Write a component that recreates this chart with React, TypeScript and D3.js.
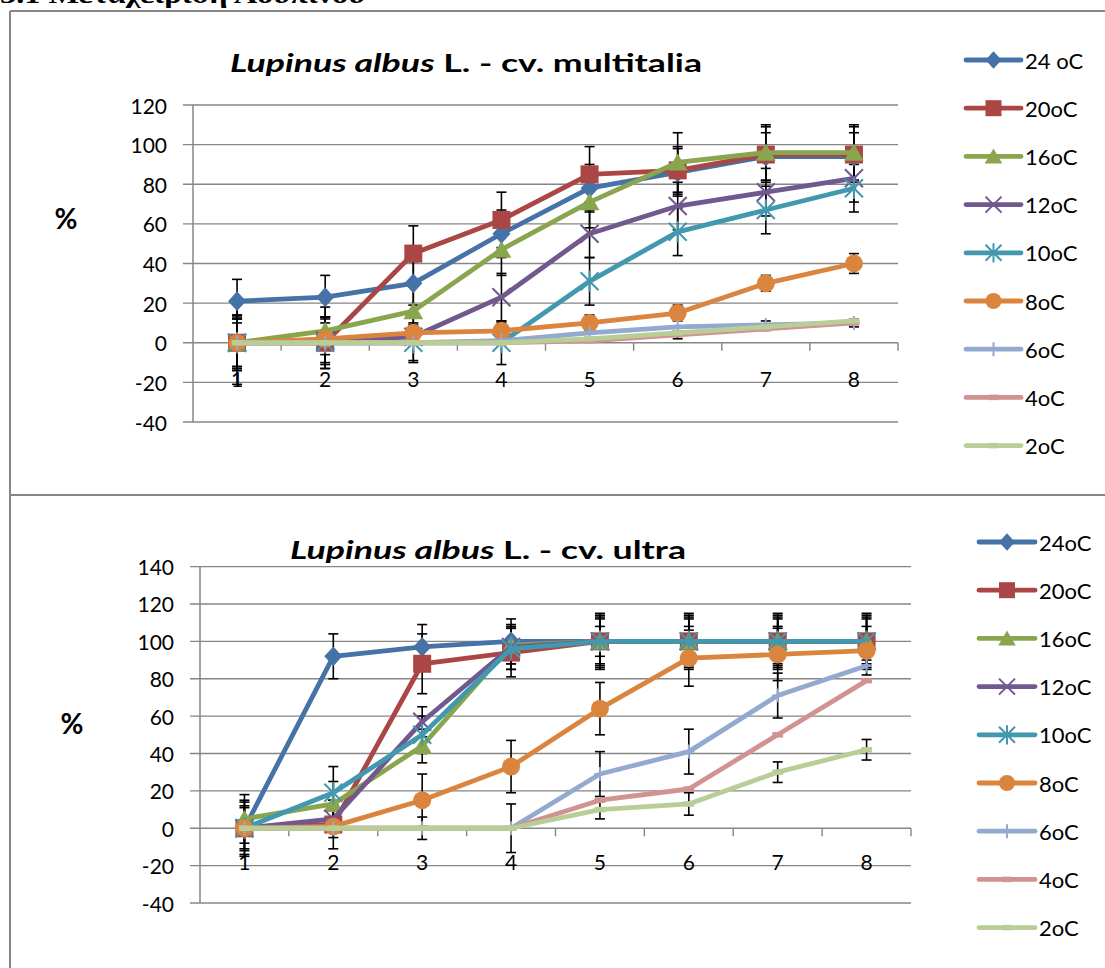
import React from 'react';
import * as d3 from 'd3';

// days (x categories)
const days = [1, 2, 3, 4, 5, 6, 7, 8];

// legend labels
const labelsTop = ['24 oC', '20oC', '16oC', '12oC', '10oC', '8oC', '6oC', '4oC', '2oC'];
const labelsBottom = ['24oC', '20oC', '16oC', '12oC', '10oC', '8oC', '6oC', '4oC', '2oC'];

const colors = ['#4572A7', '#AA4643', '#89A54E', '#71588F', '#4198AF', '#DB843D', '#93A9CF', '#D19392', '#B9CD96'];
const markers = ['diamond', 'square', 'triangle', 'x', 'star', 'circle', 'plus', 'dash', 'dash'];

// cv. multitalia - germination %
const mt24 = [21, 23, 30, 55, 78, 86, 94, 94];
const mt20 = [0, 0, 45, 62, 85, 87, 95, 95];
const mt16 = [0, 6, 16, 47, 71, 91, 96, 96];
const mt12 = [0, 1, 3, 23, 55, 69, 76, 83];
const mt10 = [0, 0, 0, 0, 31, 56, 67, 78];
const mt8 = [0, 2, 5, 6, 10, 15, 30, 40];
const mt6 = [0, 0, 0, 1, 5, 8, 9, 10];
const mt4 = [0, 0, 0, 0, 1, 4, 7, 10];
const mt2 = [0, 0, 0, 0, 2, 5, 8, 11];

// cv. multitalia - error (+/-)
const mtErr24 = [11, 11, 11, 12, 12, 12, 12, 12];
const mtErr20 = [14, 13, 14, 14, 14, 12, 14, 14];
const mtErr16 = [13, 12, 14, 13, 13, 15, 14, 14];
const mtErr12 = [12, 12, 12, 12, 12, 12, 12, 12];
const mtErr10 = [21, 10, 10, 11, 12, 12, 12, 12];
const mtErr8 = [14, 4, 4, 4, 4, 4, 4, 5];
const mtErr6 = [12, 13, 0, 0, 0, 0, 2, 2];
const mtErr4 = [0, 0, 0, 0, 0, 2, 0, 0];
const mtErr2 = [0, 0, 0, 0, 0, 0, 0, 0];

// cv. ultra - germination %
const ul24 = [0, 92, 97, 100, 100, 100, 100, 100];
const ul20 = [0, 2, 88, 94, 100, 100, 100, 100];
const ul16 = [5, 13, 44, 98, 100, 100, 100, 100];
const ul12 = [0, 5, 57, 97, 100, 100, 100, 100];
const ul10 = [0, 19, 50, 96, 100, 100, 100, 100];
const ul8 = [0, 1, 15, 33, 64, 91, 93, 95];
const ul6 = [0, 0, 0, 0, 29, 41, 71, 87];
const ul4 = [0, 0, 0, 0, 15, 21, 50, 79];
const ul2 = [0, 0, 0, 0, 10, 13, 30, 42];

// cv. ultra - error (+/-)
const ulErr24 = [14, 12, 12, 12, 15, 15, 15, 15];
const ulErr20 = [15, 13, 16, 13, 12, 12, 12, 12];
const ulErr16 = [13, 12, 9, 10, 8, 8, 8, 8];
const ulErr12 = [12, 10, 8, 12, 14, 14, 14, 14];
const ulErr10 = [11, 14, 10, 11, 13, 13, 13, 13];
const ulErr8 = [0, 0, 14, 14, 14, 15, 14, 5];
const ulErr6 = [0, 0, 6, 13, 12, 12, 12, 5];
const ulErr4 = [0, 0, 0, 0, 0, 0, 0, 0];
const ulErr2 = [0, 0, 0, 0, 5, 6, 5.5, 5.5];

const valuesTop = [mt24, mt20, mt16, mt12, mt10, mt8, mt6, mt4, mt2];
const errorsTop = [mtErr24, mtErr20, mtErr16, mtErr12, mtErr10, mtErr8, mtErr6, mtErr4, mtErr2];
const valuesBottom = [ul24, ul20, ul16, ul12, ul10, ul8, ul6, ul4, ul2];
const errorsBottom = [ulErr24, ulErr20, ulErr16, ulErr12, ulErr10, ulErr8, ulErr6, ulErr4, ulErr2];

const FONT = 'Lato, "Open Sans", sans-serif';
const GRID = '#868686';

function Marker({ type, color, x, y, s }) {
  const t = `translate(${x},${y})`;
  if (type === 'diamond')
    return <path transform={t} d={`M0,${-s * 1.1}L${s},0L0,${s * 1.1}L${-s},0Z`} fill={color} />;
  if (type === 'square') return <rect x={x - s} y={y - s} width={s * 2} height={s * 2} fill={color} />;
  if (type === 'triangle')
    return <path transform={t} d={`M0,${-s}L${s * 1.1},${s * 0.9}L${-s * 1.1},${s * 0.9}Z`} fill={color} />;
  if (type === 'circle') return <circle cx={x} cy={y} r={s} fill={color} />;
  if (type === 'x')
    return <path transform={t} d={`M${-s},${-s}L${s},${s}M${-s},${s}L${s},${-s}`} stroke={color} strokeWidth={2} />;
  if (type === 'star')
    return (
      <path
        transform={t}
        d={`M${-s},${-s}L${s},${s}M${-s},${s}L${s},${-s}M0,${-s * 1.2}L0,${s * 1.2}`}
        stroke={color}
        strokeWidth={2}
      />
    );
  if (type === 'plus')
    return <path transform={t} d={`M0,${-s}L0,${s}M${-s * 0.8},0L${s * 0.8},0`} stroke={color} strokeWidth={2} />;
  return <path transform={t} d={`M${-s * 0.6},0L${s * 0.6},0`} stroke={color} strokeWidth={5.5} />;
}

function Chart({ title, labels, values, errors, yMax, cfg }) {
  const x = d3.scaleBand().domain(days.map(String)).range([cfg.x0, cfg.x1]);
  const y = d3.scaleLinear().domain([-40, yMax]).range([cfg.yBottom, cfg.yTop]);
  const ticks = d3.range(-40, yMax + 1, 20);
  const cx = (d) => x(String(d)) + x.bandwidth() / 2;
  const line = d3
    .line()
    .x((d, i) => cx(days[i]))
    .y((d) => y(d));

  return (
    <g>
      {ticks.map((t) => (
        <g key={t}>
          <line x1={cfg.x0 - 10} x2={cfg.x1} y1={y(t)} y2={y(t)} stroke={GRID} strokeWidth={1.4} />
          <text
            x={cfg.x0 - 26}
            y={y(t)}
            textAnchor="end"
            dominantBaseline="central"
            fontSize={21}
            fontFamily={FONT}
          >
            {t}
          </text>
        </g>
      ))}
      <line x1={cfg.x0} x2={cfg.x0} y1={y(yMax)} y2={y(-40)} stroke={GRID} strokeWidth={1.5} />
      {days.map((d, i) => (
        <line
          key={d}
          x1={cfg.x0 + (i + 1) * x.bandwidth()}
          x2={cfg.x0 + (i + 1) * x.bandwidth()}
          y1={y(0)}
          y2={y(0) + 8}
          stroke={GRID}
          strokeWidth={1.4}
        />
      ))}
      {days.map((d) => (
        <text
          key={d}
          x={cx(d)}
          y={y(-20) - 4}
          textAnchor="middle"
          dominantBaseline="central"
          fontSize={21}
          fontFamily={FONT}
        >
          {d}
        </text>
      ))}

      {/* error bars */}
      {values.map((s, si) =>
        s.map((v, i) => {
          const e = errors[si][i];
          if (!e) return null;
          const px = cx(days[i]);
          return (
            <g key={`${si}-${i}`} stroke="#000" strokeWidth={1.6}>
              <line x1={px} x2={px} y1={y(v + e)} y2={y(v - e)} />
              <line x1={px - 5} x2={px + 5} y1={y(v + e)} y2={y(v + e)} />
              <line x1={px - 5} x2={px + 5} y1={y(v - e)} y2={y(v - e)} />
            </g>
          );
        })
      )}

      {values.map((s, si) => (
        <g key={si}>
          <path d={line(s)} fill="none" stroke={colors[si]} strokeWidth={4.8} strokeLinejoin="round" strokeLinecap="round" />
          {s.map((v, i) => (
            <Marker key={i} type={markers[si]} color={colors[si]} x={cx(days[i])} y={y(v)} s={markers[si] === 'plus' ? 7 : 9} />
          ))}
        </g>
      ))}

      <text
        x={cfg.titleX}
        y={cfg.titleY}
        textAnchor="middle"
        fontSize={25}
        fontWeight="bold"
        fontFamily={FONT}
        textLength={cfg.titleW}
        lengthAdjust="spacingAndGlyphs"
      >
        <tspan fontStyle="italic">Lupinus albus</tspan>
        <tspan> L. - cv. {title}</tspan>
      </text>
      <text x={cfg.pctX} y={cfg.pctY} textAnchor="middle" fontSize={28} fontWeight="bold" fontFamily={FONT}>
        %
      </text>

      {labels.map((l, i) => {
        const ly = cfg.legY + i * 48.2;
        return (
          <g key={l}>
            <line x1={cfg.legX0} x2={cfg.legX1} y1={ly} y2={ly} stroke={colors[i]} strokeWidth={4.8} strokeLinecap="round" />
            <Marker type={markers[i]} color={colors[i]} x={(cfg.legX0 + cfg.legX1) / 2} y={ly} s={markers[i] === 'plus' ? 7 : 8} />
            <text x={cfg.legX1 + 4} y={ly} dominantBaseline="central" fontSize={22} fontFamily={FONT}>
              {l}
            </text>
          </g>
        );
      })}
    </g>
  );
}

const topCfg = {
  x0: 193, x1: 898, yTop: 105, yBottom: 422,
  titleX: 466, titleY: 72, titleW: 472, pctX: 66, pctY: 229,
  legX0: 966, legX1: 1021, legY: 60,
};
const bottomCfg = {
  x0: 200, x1: 911, yTop: 566.6, yBottom: 903,
  titleX: 488, titleY: 559, titleW: 396, pctX: 72, pctY: 734,
  legX0: 979, legX1: 1035, legY: 542,
};

export default function App() {
  return (
    <svg width={1105} height={968} style={{ position: 'absolute', left: 0, top: 0, background: '#fff' }}>
      <text
        x={0}
        y={3}
        fontSize={26}
        fontWeight="bold"
        fontFamily='"Liberation Serif", serif'
        textLength={365}
        lengthAdjust="spacingAndGlyphs"
      >
        3.1 Μεταχείριση Λουπινου
      </text>
      <g stroke={GRID} strokeWidth={2}>
        <line x1={10} x2={1105} y1={11} y2={11} />
        <line x1={10} x2={10} y1={11} y2={968} />
        <line x1={10} x2={1105} y1={495} y2={495} />
      </g>
      <Chart title="multitalia" labels={labelsTop} values={valuesTop} errors={errorsTop} yMax={120} cfg={topCfg} />
      <Chart title="ultra" labels={labelsBottom} values={valuesBottom} errors={errorsBottom} yMax={140} cfg={bottomCfg} />
    </svg>
  );
}
